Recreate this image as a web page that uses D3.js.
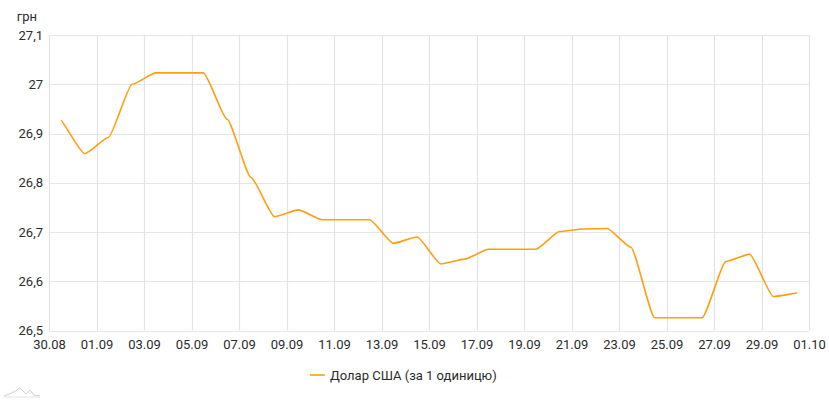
<!DOCTYPE html>
<html>
<head>
<meta charset="utf-8">
<script src="https://cdn.jsdelivr.net/npm/d3@7"></script>
<style>
  html, body { margin: 0; padding: 0; background: #fff; }
  svg { display: block; font-family: Roboto, "Noto Sans", sans-serif; }
</style>
</head>
<body>
<svg id="chart" width="829" height="400"></svg>
<script>
// ---- data ----
const dates = ["30.08","31.08","01.09","02.09","03.09","04.09","05.09","06.09","07.09","08.09",
  "09.09","10.09","11.09","12.09","13.09","14.09","15.09","16.09","17.09","18.09",
  "19.09","20.09","21.09","22.09","23.09","24.09","25.09","26.09","27.09","28.09",
  "29.09","30.09"];
const usdValues = [26.927,26.859,26.892,27.000,27.023,27.023,27.023,26.929,26.811,26.731,
  26.745,26.725,26.725,26.725,26.677,26.690,26.635,26.645,26.665,26.665,
  26.665,26.701,26.706,26.707,26.669,26.526,26.526,26.526,26.640,26.655,
  26.569,26.576];
const xTickLabels = ["30.08","01.09","03.09","05.09","07.09","09.09","11.09","13.09",
  "15.09","17.09","19.09","21.09","23.09","25.09","27.09","29.09","01.10"];
const yTickValues = [26.5,26.6,26.7,26.8,26.9,27.0,27.1];
const seriesName = "Долар США (за 1 одиницю)";
const unitLabel = "грн";

// ---- helpers ----
const year = 2020;
const parseDM = s => { const [d,m] = s.split(".").map(Number); return new Date(year, m-1, d); };
const noon = s => d3.timeHour.offset(parseDM(s), 12);

// x-tension smoothing curve (horizontal tangents at points, short control arms)
function curveTensionX(k) {
  return function(context) {
    let pts = [];
    return {
      lineStart() { pts = []; },
      lineEnd() {
        const n = pts.length;
        if (!n) return;
        context.moveTo(pts[0][0], pts[0][1]);
        for (let i = 0; i < n - 1; i++) {
          const p0 = pts[Math.max(0, i - 1)], p1 = pts[i], p2 = pts[i + 1], p3 = pts[Math.min(n - 1, i + 2)];
          const c1x = p1[0] + (p2[0] - p0[0]) * k;
          const c2x = p2[0] - (p3[0] - p1[0]) * k;
          context.bezierCurveTo(c1x, p1[1], c2x, p2[1], p2[0], p2[1]);
        }
      },
      areaStart() {}, areaEnd() {},
      point(x, y) { pts.push([+x, +y]); }
    };
  };
}

const svg = d3.select("#chart");
const m = {left: 49, right: 20, top: 35, bottom: 69.5};
const W = 829, H = 400;
const pw = W - m.left - m.right, ph = H - m.top - m.bottom;

const x = d3.scaleTime().domain([parseDM("30.08"), parseDM("01.10")]).range([m.left, m.left + pw]);
const y = d3.scaleLinear().domain([26.5, 27.1]).range([m.top + ph, m.top]);

const fmtY = v => (Math.round(v*10)/10).toString().replace(".", ",");
const xTicks = xTickLabels.map(parseDM);

// grid
const g = svg.append("g");
g.selectAll(".hg").data(yTickValues).join("line")
  .attr("x1", m.left).attr("x2", m.left + pw)
  .attr("y1", d => Math.round(y(d)) + 0.5).attr("y2", d => Math.round(y(d)) + 0.5)
  .attr("stroke", "#e6e6e6").attr("stroke-width", 1.2);
g.selectAll(".vg").data(xTicks).join("line")
  .attr("x1", d => Math.round(x(d)) + 0.5).attr("x2", d => Math.round(x(d)) + 0.5)
  .attr("y1", m.top).attr("y2", m.top + ph)
  .attr("stroke", "#e3e3e3").attr("stroke-width", 1.2);

// axes
const yAxis = d3.axisLeft(y).tickValues(yTickValues).tickFormat(fmtY).tickSize(0).tickPadding(6);
const ya = svg.append("g").attr("transform", `translate(${m.left},0)`).call(yAxis);
ya.select(".domain").remove();
ya.selectAll("text").attr("font-size", 13).attr("fill", "#2b2b2b").attr("font-family", "Roboto, sans-serif");

const xAxis = d3.axisBottom(x).tickValues(xTicks).tickFormat(d3.timeFormat("%d.%m")).tickSize(0).tickPadding(9);
const xa = svg.append("g").attr("transform", `translate(0,${m.top + ph})`).call(xAxis);
xa.select(".domain").remove();
xa.selectAll("text").attr("font-size", 13).attr("fill", "#2b2b2b").attr("font-family", "Roboto, sans-serif");

// unit label
svg.append("text").attr("x", 27).attr("y", 21).attr("text-anchor", "middle")
  .attr("font-size", 13).attr("fill", "#2b2b2b").text(unitLabel);

// line
const data = dates.map((d, i) => ({date: noon(d), value: usdValues[i]}));
const line = d3.line().x(d => x(d.date)).y(d => y(d.value)).curve(curveTensionX(0.09));
svg.append("path").datum(data).attr("d", line)
  .attr("fill", "none").attr("stroke", "#ff9f0f").attr("stroke-width", 1.6)
  .attr("stroke-linejoin", "round");

// legend
const lg = svg.append("g").attr("transform", "translate(310,375)");
lg.append("line").attr("x1", 0).attr("x2", 15).attr("y1", 0).attr("y2", 0)
  .attr("stroke", "#ff9f0f").attr("stroke-width", 1.6);
lg.append("text").attr("x", 20).attr("y", 0).attr("dy", "0.35em")
  .attr("font-size", 13).attr("fill", "#2b2b2b").text(seriesName);

// faint logo
const logo = svg.append("g").attr("transform", "translate(4,386)").attr("fill", "none")
  .attr("stroke", "#cfcfcf").attr("stroke-width", 1);
logo.append("path").attr("d", "M0,10 L8,7 L16,2 L22,8 L26,4 L30,9 L36,10");
logo.append("path").attr("d", "M0,11 L36,11").attr("stroke", "#e3e3e3");
</script>
</body>
</html>
